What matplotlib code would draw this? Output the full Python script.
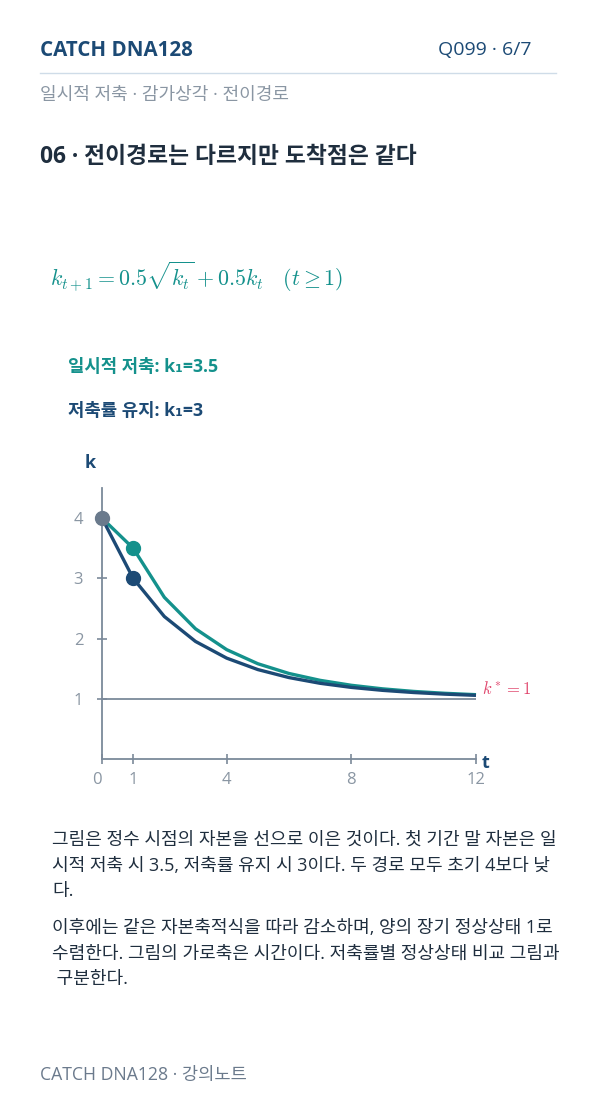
import matplotlib.pyplot as plt

plt.rcParams['font.family'] = ['Open Sans', 'Noto Sans CJK KR', 'DejaVu Sans']
plt.rcParams['mathtext.fontset'] = 'cm'

# data
t = [0, 1, 2, 3, 4, 5, 6, 7, 8, 9, 10, 11, 12]
k_temp = [4, 3.5, 2.685, 2.162, 1.816, 1.582, 1.420, 1.306, 1.224, 1.165, 1.122, 1.091, 1.068]
k_keep = [4, 3.0, 2.366, 1.952, 1.675, 1.485, 1.352, 1.257, 1.189, 1.140, 1.104, 1.077, 1.057]
k_star = 1
x_ticks = [0, 1, 4, 8, 12]
y_ticks = [1, 2, 3, 4]

TEAL = "#14918c"
NAVY = "#1c4a75"
GREY = "#7b8a9a"
DARK = "#1f2e3e"
RED = "#e0456c"

W, H = 596, 1106
fig = plt.figure(figsize=(W / 100, H / 100), dpi=100)

def fy(py):
    return 1 - py / H

def fx(px):
    return px / W

# header
fig.text(fx(40), fy(50), "CATCH DNA128", fontsize=14.8, fontweight="bold", color=NAVY, va="center")
fig.text(fx(531), fy(50), "Q099 · 6/7", fontsize=14, color=NAVY, va="center", ha="right")
fig.add_artist(plt.Line2D([fx(40), fx(556)], [fy(73), fy(73)], color="#cfdce8", lw=1))
fig.text(fx(40), fy(95), "일시적 저축 · 감가상각 · 전이경로", fontsize=13, color="#8a96a3", va="center")
fig.text(fx(40), fy(157), "06 · 전이경로는 다르지만 도착점은 같다", fontsize=16.4, fontweight="bold",
         color=DARK, va="center")

# equation
fig.text(fx(50), fy(277), r"$k_{t+1} = 0.5\sqrt{k_t} + 0.5k_t \quad (t \geq 1)$",
         fontsize=15.8, color=TEAL, va="center")

# legend labels
fig.text(fx(68), fy(367), "일시적 저축: k₁=3.5", fontsize=12.8, fontweight="bold", color=TEAL, va="center")
fig.text(fx(68), fy(411), "저축률 유지: k₁=3", fontsize=12.8, fontweight="bold", color=NAVY, va="center")

# chart
ax = fig.add_axes([fx(102), fy(759), 374 / W, 271 / H])
ax.set_xlim(0, 12)
ax.set_ylim(0, 4.5)
for s in ["top", "right"]:
    ax.spines[s].set_visible(False)
for s in ["left", "bottom"]:
    ax.spines[s].set_color(GREY)
    ax.spines[s].set_linewidth(1.3)

ax.plot([0, 12], [k_star, k_star], color=GREY, lw=1.3, zorder=1)
ax.plot(t, k_temp, color=TEAL, lw=2.4, zorder=2, clip_on=False, solid_capstyle="butt")
ax.plot(t, k_keep, color=NAVY, lw=2.4, zorder=3, clip_on=False, solid_capstyle="butt")
ax.plot([1], [k_temp[1]], "o", color=TEAL, ms=10, zorder=4, clip_on=False)
ax.plot([1], [k_keep[1]], "o", color=NAVY, ms=10, zorder=4, clip_on=False)
ax.plot([0], [k_temp[0]], "o", color="#6a7a8c", ms=10, zorder=5, clip_on=False)

ax.set_xticks(x_ticks)
ax.set_xticklabels([str(v) for v in x_ticks])
ax.set_yticks(y_ticks)
ax.set_yticklabels([str(v) for v in y_ticks])
ax.tick_params(axis="both", colors=GREY, labelcolor="#8a96a3", labelsize=12,
               direction="inout", length=7, width=1.2)
ax.tick_params(axis="x", pad=6)
ax.tick_params(axis="y", pad=10)
for lab in ax.get_xticklabels():
    if lab.get_text() == "0":
        lab.set_horizontalalignment("right")

ax.text(12.2, k_star + 0.02, r"$k^* = 1$", color=RED, fontsize=12, va="bottom", ha="left")
fig.text(fx(90), fy(463), "k", fontsize=13, fontweight="bold", color=NAVY, va="center", ha="center")
fig.text(fx(486), fy(763), "t", fontsize=13, fontweight="bold", color=NAVY, va="center", ha="center")

# body text
body = [
    (840, "그림은 정수 시점의 자본을 선으로 이은 것이다. 첫 기간 말 자본은 일"),
    (866, "시적 저축 시 3.5, 저축률 유지 시 3이다. 두 경로 모두 초기 4보다 낮"),
    (891, "다."),
    (928, "이후에는 같은 자본축적식을 따라 감소하며, 양의 장기 정상상태 1로"),
    (954, "수렴한다. 그림의 가로축은 시간이다. 저축률별 정상상태 비교 그림과"),
    (979, " 구분한다."),
]
for py, line in body:
    fig.text(fx(52), fy(py), line, fontsize=13, fontweight="medium", color=DARK, va="center")

# footer
fig.text(fx(40), fy(1075), "CATCH DNA128 · 강의노트", fontsize=12.7, color="#6b7a8c", va="center")

fig.savefig("out.png", dpi=100)
